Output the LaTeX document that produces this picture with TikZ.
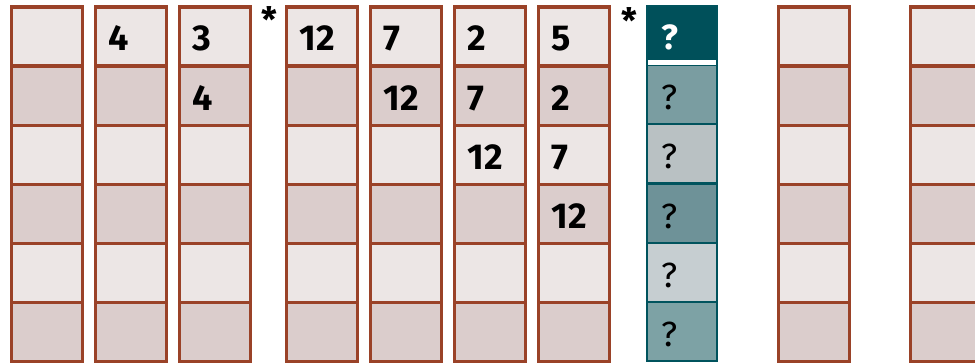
\documentclass[tikz,border=0pt]{standalone}
\usepackage{fontspec}
\setmainfont{Fira Sans}
\definecolor{cl}{HTML}{ECE6E5}
\definecolor{cd}{HTML}{DBCDCC}
\definecolor{brd}{HTML}{9A4228}
\definecolor{tb}{HTML}{00535D}
\definecolor{tk0}{HTML}{00505A}
\definecolor{tk1}{HTML}{7A9DA1}
\definecolor{tk2}{HTML}{B9C1C3}
\definecolor{tk3}{HTML}{6E9298}
\definecolor{tk4}{HTML}{C6CED1}
\definecolor{tk5}{HTML}{7DA2A5}
\begin{document}
\begin{tikzpicture}[x=1pt,y=-1pt,
  cell/.style={draw=brd, line width=3.2pt, minimum width=71pt, minimum height=59.1pt,
    anchor=north west, inner sep=0pt, outer sep=0pt},
  tcell/.style={cell, draw=tb, line width=2.2pt},
  num/.style={font=\fontsize{36}{36}\selectfont\bfseries, anchor=base west, inner sep=0pt},
  qm/.style={font=\fontsize{35}{35}\selectfont, anchor=base west, inner sep=0pt},
  star/.style={font=\fontsize{35}{35}\selectfont\bfseries, inner sep=0pt}]
\useasboundingbox (0,0) rectangle (975,363);
\foreach \c/\x in {1/11.5,2/95.5,3/179.5,4/286.5,5/370.5,6/454.5,7/538.5,9/778.5,10/910.5} {
  \foreach \r/\f in {0/cl,1/cd,2/cl,3/cd,4/cl,5/cd} {
    \node[cell, fill=\f] (c\c r\r) at (\x,{7+\r*59.1}) {};
  }
}
\foreach \c/\r/\t in {2/0/4,3/0/3,3/1/4,4/0/12,5/0/7,5/1/12,6/0/2,6/1/7,6/2/12,7/0/5,7/1/2,7/2/7,7/3/12}
  \path (c\c r\r.north west) ++(13,44) node[num] (t\c r\r) {\t};
% teal column
\foreach \r in {0,...,5}
  \node[tcell, fill=tk\r, minimum width=70pt] (k\r) at (647,{6+\r*59.2}) {};
\draw[white, line width=5pt] ([xshift=1.1pt,yshift=2.6pt]k0.south west) -- ([xshift=-1.1pt,yshift=2.6pt]k0.south east);
\path (k0.north west) ++(14,44) node[qm, text=white, font=\fontsize{35}{35}\selectfont\bfseries] (q0) {?};
\foreach \r in {1,...,5}
  \path (k\r.north west) ++(14,44.5) node[qm] (q\r) {?};
% stars
\node[star] (s1) at (269,19.5) {*};
\node[star] (s2) at (629,20.5) {*};
\end{tikzpicture}
\end{document}
